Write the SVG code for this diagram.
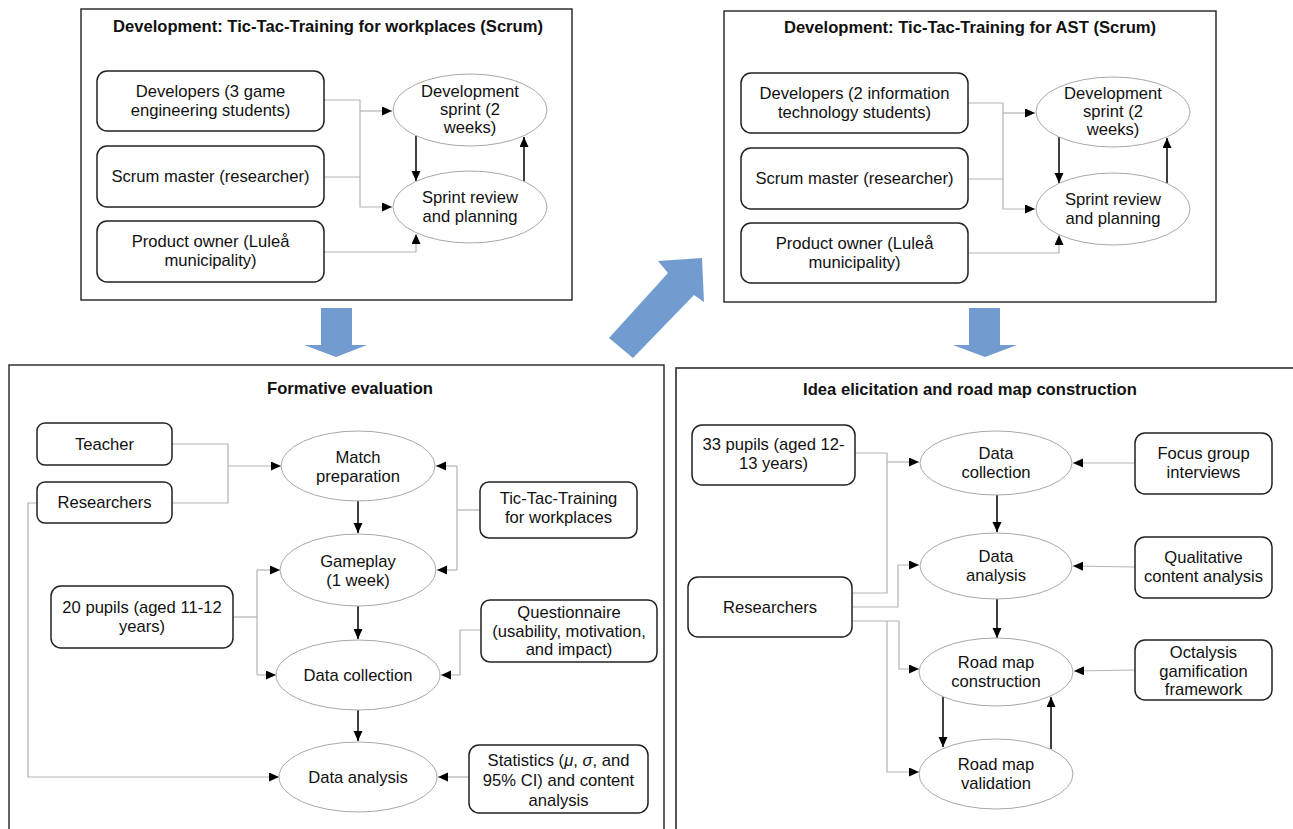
<svg xmlns="http://www.w3.org/2000/svg" width="1293" height="829" viewBox="0 0 1293 829">
<defs>
<marker id="ah" markerWidth="11" markerHeight="10" refX="10" refY="4.5" orient="auto" markerUnits="userSpaceOnUse">
<path d="M0,0 L10,4.5 L0,9 z" fill="#000"/>
</marker>
<style>
.panel{fill:#fff;stroke:#222;stroke-width:1.4}
.box{fill:#fff;stroke:#222;stroke-width:1.5}
.ell{fill:#fff;stroke:#a8a8a8;stroke-width:1}
.g{fill:none;stroke:#b3b3b3;stroke-width:1.2}
.b{fill:none;stroke:#000;stroke-width:1.5}
.t{font-family:"Liberation Sans",Arial,sans-serif;font-size:16.6px;fill:#111;text-anchor:middle}
.h{font-family:"Liberation Sans",Arial,sans-serif;font-size:16.6px;font-weight:bold;fill:#111;text-anchor:middle}
.blue{fill:#729bcf}
</style>
</defs>
<rect width="1293" height="829" fill="#fff"/>

<g id="panel-dev-workplaces">
<rect class="panel" x="81" y="9" width="491" height="291"/>
<text class="h" x="328" y="32">Development: Tic-Tac-Training for workplaces (Scrum)</text>
</g>
<g id="panel-dev-ast">
<rect class="panel" x="724" y="11" width="492" height="291"/>
<text class="h" x="970" y="33">Development: Tic-Tac-Training for AST (Scrum)</text>
</g>
<g id="panel-formative">
<rect class="panel" x="9" y="365" width="655" height="480"/>
<text class="h" x="350" y="394">Formative evaluation</text>
</g>
<g id="panel-idea">
<rect class="panel" x="676" y="368" width="640" height="480" style="stroke:#444;stroke-width:1.8"/>
<text class="h" x="970" y="395">Idea elicitation and road map construction</text>
</g>

<g id="blue-arrows">
<polygon class="blue" points="321,308 352,308 352,345 367,345 336,357 304,345 321,345"/>
<polygon class="blue" points="969,308 1000,308 1000,345 1017,345 985,357 953,345 969,345"/>
<polygon class="blue" points="609,338 668,273 658,261 702,258 704,302 694,295 633,358"/>
</g>

<g id="connectors">
<!-- panel 1 -->
<polyline class="g" points="324,100 360,100 360,207 392,207" marker-end="url(#ah)"/>
<polyline class="g" points="360,111 392,111" marker-end="url(#ah)"/>
<polyline class="g" points="324,177 360,177"/>
<polyline class="g" points="324,252 416,252 416,234" marker-end="url(#ah)"/>
<line class="b" x1="416" y1="136" x2="416" y2="181" marker-end="url(#ah)"/>
<line class="b" x1="524" y1="182" x2="524" y2="137" marker-end="url(#ah)"/>
<!-- panel 2 -->
<polyline class="g" points="968,103 1003,103 1003,209 1035,209" marker-end="url(#ah)"/>
<polyline class="g" points="1003,113 1035,113" marker-end="url(#ah)"/>
<polyline class="g" points="968,179 1003,179"/>
<polyline class="g" points="968,253 1059,253 1059,235" marker-end="url(#ah)"/>
<line class="b" x1="1059" y1="137" x2="1059" y2="183" marker-end="url(#ah)"/>
<line class="b" x1="1167" y1="184" x2="1167" y2="138" marker-end="url(#ah)"/>
<!-- panel 3 -->
<polyline class="g" points="172,444 228,444 228,503 172,503"/>
<polyline class="g" points="228,466 281,466" marker-end="url(#ah)"/>
<polyline class="g" points="480,510 457,510"/>
<polyline class="g" points="457,466 457,570"/>
<polyline class="g" points="457,466 436,466" marker-end="url(#ah)"/>
<polyline class="g" points="457,570 437,570" marker-end="url(#ah)"/>
<polyline class="g" points="233,617 257,617"/>
<polyline class="g" points="257,570 257,675"/>
<polyline class="g" points="257,570 280,570" marker-end="url(#ah)"/>
<polyline class="g" points="257,675 276,675" marker-end="url(#ah)"/>
<polyline class="g" points="481,630 460,630 460,675 441,675" marker-end="url(#ah)"/>
<polyline class="g" points="37,503 28,503 28,777 279,777" marker-end="url(#ah)"/>
<polyline class="g" points="469,777 438,777" marker-end="url(#ah)"/>
<line class="b" x1="358" y1="500" x2="358" y2="533" marker-end="url(#ah)"/>
<line class="b" x1="358" y1="606" x2="358" y2="639" marker-end="url(#ah)"/>
<line class="b" x1="358" y1="710" x2="358" y2="741" marker-end="url(#ah)"/>
<!-- panel 4 -->
<polyline class="g" points="855,453 887,453 887,593 852,593"/>
<polyline class="g" points="887,462 919,462" marker-end="url(#ah)"/>
<polyline class="g" points="852,607 898,607 898,565 919,565" marker-end="url(#ah)"/>
<polyline class="g" points="852,621 899,621 899,669 919,669" marker-end="url(#ah)"/>
<polyline class="g" points="887,621 887,772 919,772" marker-end="url(#ah)"/>
<polyline class="g" points="1135,463 1073,463" marker-end="url(#ah)"/>
<polyline class="g" points="1135,567 1073,566" marker-end="url(#ah)"/>
<polyline class="g" points="1135,670 1074,671" marker-end="url(#ah)"/>
<line class="b" x1="997" y1="495" x2="997" y2="532" marker-end="url(#ah)"/>
<line class="b" x1="997" y1="599" x2="997" y2="638" marker-end="url(#ah)"/>
<line class="b" x1="943" y1="697" x2="943" y2="747" marker-end="url(#ah)"/>
<line class="b" x1="1051" y1="749" x2="1051" y2="697" marker-end="url(#ah)"/>
</g>

<!-- panel 1 nodes -->
<g id="p1-developers"><rect class="box" x="97" y="71" width="227" height="60" rx="10"/><text class="t" x="210.5" y="97">Developers (3 game</text><text class="t" x="210.5" y="115.5">engineering students)</text></g>
<g id="p1-scrum"><rect class="box" x="97" y="146" width="227" height="61" rx="10"/><text class="t" x="210.5" y="182">Scrum master (researcher)</text></g>
<g id="p1-owner"><rect class="box" x="97" y="221" width="227" height="61" rx="10"/><text class="t" x="210.5" y="247">Product owner (Luleå</text><text class="t" x="210.5" y="265.5">municipality)</text></g>
<g id="p1-sprint"><ellipse class="ell" cx="470" cy="110" rx="77" ry="36"/><text class="t" x="470" y="97">Development</text><text class="t" x="470" y="115">sprint (2</text><text class="t" x="470" y="133">weeks)</text></g>
<g id="p1-review"><ellipse class="ell" cx="470" cy="207" rx="77" ry="36"/><text class="t" x="470" y="203">Sprint review</text><text class="t" x="470" y="221.5">and planning</text></g>

<!-- panel 2 nodes -->
<g id="p2-developers"><rect class="box" x="741" y="73" width="227" height="60" rx="10"/><text class="t" x="854.5" y="99">Developers (2 information</text><text class="t" x="854.5" y="117.5">technology students)</text></g>
<g id="p2-scrum"><rect class="box" x="741" y="148" width="227" height="61" rx="10"/><text class="t" x="854.5" y="184">Scrum master (researcher)</text></g>
<g id="p2-owner"><rect class="box" x="741" y="223" width="227" height="60" rx="10"/><text class="t" x="854.5" y="249">Product owner (Luleå</text><text class="t" x="854.5" y="267.5">municipality)</text></g>
<g id="p2-sprint"><ellipse class="ell" cx="1113" cy="112" rx="77" ry="35"/><text class="t" x="1113" y="99">Development</text><text class="t" x="1113" y="117">sprint (2</text><text class="t" x="1113" y="135">weeks)</text></g>
<g id="p2-review"><ellipse class="ell" cx="1113" cy="209" rx="77" ry="36"/><text class="t" x="1113" y="205">Sprint review</text><text class="t" x="1113" y="223.5">and planning</text></g>

<!-- panel 3 nodes -->
<g id="p3-teacher"><rect class="box" x="37" y="423" width="135" height="42" rx="8"/><text class="t" x="104.5" y="450">Teacher</text></g>
<g id="p3-researchers"><rect class="box" x="37" y="482" width="135" height="41" rx="8"/><text class="t" x="104.5" y="508">Researchers</text></g>
<g id="p3-ttt"><rect class="box" x="480" y="482" width="157" height="56" rx="9"/><text class="t" x="558.5" y="504">Tic-Tac-Training</text><text class="t" x="558.5" y="523">for workplaces</text></g>
<g id="p3-pupils"><rect class="box" x="51" y="586" width="182" height="62" rx="10"/><text class="t" x="142" y="613">20 pupils (aged 11-12</text><text class="t" x="142" y="632">years)</text></g>
<g id="p3-questionnaire"><rect class="box" x="481" y="600" width="176" height="62" rx="9"/><text class="t" x="569" y="618">Questionnaire</text><text class="t" x="569" y="636.5">(usability, motivation,</text><text class="t" x="569" y="655">and impact)</text></g>
<g id="p3-statistics"><rect class="box" x="469" y="745" width="179" height="68" rx="10"/><text class="t" x="558.5" y="766">Statistics (<tspan font-style="italic">μ</tspan>, <tspan font-style="italic">σ</tspan>, and</text><text class="t" x="558.5" y="786">95% CI) and content</text><text class="t" x="558.5" y="806">analysis</text></g>
<g id="p3-match"><ellipse class="ell" cx="358" cy="466" rx="77" ry="35"/><text class="t" x="358" y="463">Match</text><text class="t" x="358" y="482">preparation</text></g>
<g id="p3-gameplay"><ellipse class="ell" cx="358" cy="570" rx="78" ry="36"/><text class="t" x="358" y="567">Gameplay</text><text class="t" x="358" y="586">(1 week)</text></g>
<g id="p3-collection"><ellipse class="ell" cx="358" cy="675" rx="82" ry="35"/><text class="t" x="358" y="681">Data collection</text></g>
<g id="p3-analysis"><ellipse class="ell" cx="358" cy="777" rx="79" ry="35"/><text class="t" x="358" y="783">Data analysis</text></g>

<!-- panel 4 nodes -->
<g id="p4-pupils"><rect class="box" x="692" y="425" width="163" height="60" rx="10"/><text class="t" x="773.5" y="450">33 pupils (aged 12-</text><text class="t" x="773.5" y="469">13 years)</text></g>
<g id="p4-researchers"><rect class="box" x="688" y="577" width="164" height="60" rx="10"/><text class="t" x="770" y="613">Researchers</text></g>
<g id="p4-focus"><rect class="box" x="1135" y="433" width="137" height="61" rx="10"/><text class="t" x="1203.5" y="459">Focus group</text><text class="t" x="1203.5" y="478">interviews</text></g>
<g id="p4-qualitative"><rect class="box" x="1135" y="537" width="137" height="61" rx="10"/><text class="t" x="1203.5" y="563">Qualitative</text><text class="t" x="1203.5" y="582">content analysis</text></g>
<g id="p4-octalysis"><rect class="box" x="1135" y="640" width="137" height="60" rx="10"/><text class="t" x="1203.5" y="658">Octalysis</text><text class="t" x="1203.5" y="676.5">gamification</text><text class="t" x="1203.5" y="695">framework</text></g>
<g id="p4-collection"><ellipse class="ell" cx="996" cy="463" rx="76" ry="32"/><text class="t" x="996" y="459">Data</text><text class="t" x="996" y="478">collection</text></g>
<g id="p4-analysis"><ellipse class="ell" cx="996" cy="566" rx="76" ry="33"/><text class="t" x="996" y="562">Data</text><text class="t" x="996" y="581">analysis</text></g>
<g id="p4-construction"><ellipse class="ell" cx="996" cy="672" rx="77" ry="34"/><text class="t" x="996" y="668">Road map</text><text class="t" x="996" y="687">construction</text></g>
<g id="p4-validation"><ellipse class="ell" cx="996" cy="774" rx="77" ry="35"/><text class="t" x="996" y="770">Road map</text><text class="t" x="996" y="789">validation</text></g>
</svg>
